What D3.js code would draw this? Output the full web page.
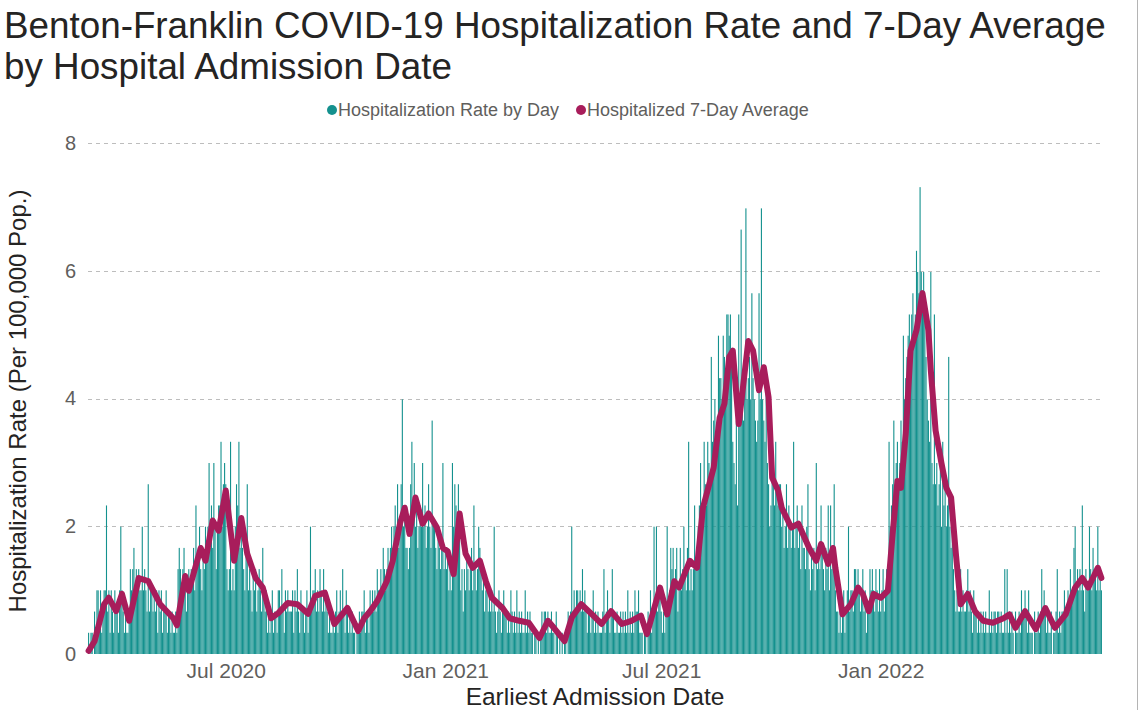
<!DOCTYPE html>
<html><head><meta charset="utf-8">
<script src="https://cdn.jsdelivr.net/npm/d3@7"></script>
<style>body{margin:0;background:#fff;} svg{display:block;font-family:"Liberation Sans", Arial, sans-serif;}</style>
</head><body><svg id="chart" width="1140" height="710"></svg>
<script>
// ---------- DATA ----------
const titleLines = ["Benton-Franklin COVID-19 Hospitalization Rate and 7-Day Average", "by Hospital Admission Date"];
const legendLabels = ["Hospitalization Rate by Day", "Hospitalized 7-Day Average"];
const yAxisTitle = "Hospitalization Rate (Per 100,000 Pop.)";
const xAxisTitle = "Earliest Admission Date";
const yTicks = [0, 2, 4, 6, 8];
const xTickDates = ["2020-07-01", "2021-01-01", "2021-07-01", "2022-01-01"];
const xTickLabels = ["Jul 2020", "Jan 2021", "Jul 2021", "Jan 2022"];

// daily admissions (patients), one per day starting at firstDay; rate = patients per 100,000 pop.
const firstDay = "2020-03-08";
const population = 301000;
const dailyPatients = [
1,0,1,1,0,2,1,3,3,2, 3,1,2,3,3,7,2,3,1,3, 2,1,3,2,2,1,3,6,3,2, 1,2,1,1,2,4,3,4,5,3,
4,3,4,3,3,6,3,4,3,2, 8,2,3,3,2,3,2,3,1,3, 2,3,1,2,2,3,1,2,2,1, 2,1,1,2,1,4,5,4,3,4,
5,3,2,3,4,3,4,4,5,3, 7,4,5,6,4,3,5,4,6,5, 6,9,5,7,5,9,6,4,6,7, 7,10,6,8,9,8,4,3,4,10,
3,4,3,6,8,7,10,5,6,5, 4,3,5,8,3,4,3,2,4,3, 4,2,3,4,3,2,5,3,2,3, 1,2,1,2,3,1,2,2,1,3,
3,2,4,2,1,3,2,3,2,2, 2,3,1,3,2,4,2,1,3,2, 2,1,2,3,1,2,6,2,3,3, 4,2,3,2,4,3,2,4,2,3,
2,1,2,1,1,2,1,2,3,1, 2,3,2,4,2,1,3,2,1,2, 1,2,1,1,0,1,1,2,1,2, 2,3,1,2,2,1,3,2,3,2,
3,2,4,3,3,4,3,5,4,3, 4,5,4,5,6,5,6,7,6,8, 5,6,8,12,6,7,5,5,4,5, 8,10,7,9,6,7,5,6,7,6,
9,6,7,5,6,8,6,5,11,6, 6,5,4,6,5,4,5,9,4,5, 4,5,3,4,3,9,6,8,7,6, 8,6,3,4,2,4,3,5,4,3,
4,5,3,7,4,3,4,6,5,4, 3,4,2,3,3,2,3,2,3,2, 6,2,1,2,3,2,1,2,3,2, 2,1,2,1,3,2,1,2,1,3,
1,2,1,2,1,1,3,1,2,1, 2,1,1,0,1,1,0,1,0,1, 2,1,2,2,1,2,1,1,2,1, 1,0,2,1,0,1,0,1,0,1,
1,0,2,1,2,6,2,3,2,3, 3,2,3,2,4,2,3,2,1,2, 2,1,2,3,1,2,1,2,1,1, 1,2,4,1,2,3,2,1,2,4,
2,1,1,2,1,1,2,1,2,1, 2,1,3,1,2,1,2,1,3,2, 2,3,1,1,1,0,1,1,0,2, 1,3,1,2,6,2,6,2,3,3,
2,1,2,1,2,6,2,3,5,4, 5,3,4,5,2,3,5,3,4,6, 4,3,5,10,3,4,3,4,7,4, 5,6,7,9,6,7,10,8,7,10,
9,8,14,10,11,12,10,11,15,13, 13,12,15,14,13,16,16,15,16,14, 10,9,8,11,7,16,12,20,12,11, 13,21,12,13,14,12,17,13,12,11,
10,11,17,12,21,12,11,10,13,9, 8,6,7,9,8,7,10,8,7,8, 8,6,7,5,6,8,5,7,6,5, 6,10,5,6,7,5,6,4,7,5,
5,4,6,8,4,3,5,4,5,3, 9,4,5,4,7,5,4,3,5,4, 7,3,7,4,5,8,3,2,2,1, 2,1,2,3,1,2,3,6,2,3,
3,2,4,4,3,4,3,2,3,4, 2,3,1,2,2,4,3,4,3,2, 4,3,2,4,2,3,4,2,3,4, 3,10,6,7,8,11,7,9,10,8,
9,11,10,15,12,13,14,15,16,14, 16,17,15,16,19,18,17,22,18,17, 18,16,14,12,11,10,18,9,8,16, 8,9,7,8,9,6,10,7,8,6,
7,14,6,5,6,4,3,2,3,2, 2,4,2,3,2,2,3,4,2,3, 2,1,3,2,2,1,2,1,2,1, 2,1,2,1,1,3,1,2,1,2,
2,1,2,2,1,2,1,1,4,1, 4,1,2,1,2,1,0,2,1,1, 2,1,3,2,2,3,2,1,3,1, 1,1,0,2,1,1,2,1,2,4,
2,3,2,1,2,1,1,2,0,1, 1,2,4,1,2,1,2,2,3,2, 2,3,2,4,3,3,5,6,3,4, 3,4,3,7,3,2,4,3,3,6,
4,3,5,4,4,3,6,3,4,3
];

// 7-day average line
const avgDates = ["2020-03-08","2020-03-13","2020-03-21","2020-03-25","2020-03-31","2020-04-05","2020-04-11","2020-04-19","2020-04-27","2020-05-07","2020-05-18","2020-05-21","2020-05-28","2020-05-31","2020-06-10","2020-06-14","2020-06-20","2020-06-25","2020-07-01","2020-07-08","2020-07-14","2020-07-19","2020-07-26","2020-08-01","2020-08-08","2020-08-14","2020-08-22","2020-08-30","2020-09-08","2020-09-14","2020-09-22","2020-09-30","2020-10-11","2020-10-20","2020-10-25","2020-10-30","2020-11-05","2020-11-13","2020-11-18","2020-11-24","2020-11-28","2020-12-02","2020-12-07","2020-12-13","2020-12-18","2020-12-25","2020-12-30","2021-01-03","2021-01-08","2021-01-13","2021-01-18","2021-01-24","2021-01-30","2021-02-04","2021-02-09","2021-02-18","2021-02-24","2021-03-04","2021-03-12","2021-03-21","2021-03-28","2021-04-02","2021-04-11","2021-04-17","2021-04-25","2021-05-04","2021-05-12","2021-05-20","2021-05-29","2021-06-06","2021-06-14","2021-06-19","2021-06-30","2021-07-06","2021-07-12","2021-07-16","2021-07-25","2021-07-31","2021-08-05","2021-08-14","2021-08-19","2021-08-23","2021-08-27","2021-08-30","2021-09-04","2021-09-12","2021-09-16","2021-09-21","2021-09-25","2021-09-29","2021-10-02","2021-10-07","2021-10-10","2021-10-18","2021-10-24","2021-11-02","2021-11-08","2021-11-12","2021-11-18","2021-11-22","2021-11-24","2021-11-30","2021-12-07","2021-12-13","2021-12-17","2021-12-22","2021-12-26","2022-01-01","2022-01-07","2022-01-11","2022-01-15","2022-01-18","2022-01-22","2022-01-26","2022-01-31","2022-02-05","2022-02-10","2022-02-12","2022-02-16","2022-02-21","2022-02-25","2022-03-01","2022-03-05","2022-03-09","2022-03-15","2022-03-21","2022-03-28","2022-04-05","2022-04-14","2022-04-19","2022-04-24","2022-05-02","2022-05-11","2022-05-19","2022-05-27","2022-06-05","2022-06-13","2022-06-19","2022-06-24","2022-07-02","2022-07-05"];
const avgValues = [0.05,0.2,0.78,0.88,0.67,0.94,0.52,1.19,1.14,0.78,0.56,0.45,1.22,0.99,1.66,1.46,2.09,1.93,2.56,1.46,2.13,1.57,1.19,1.04,0.56,0.64,0.8,0.78,0.63,0.91,0.96,0.47,0.72,0.36,0.56,0.67,0.83,1.14,1.46,2.04,2.29,1.88,2.45,2.04,2.2,1.98,1.66,1.61,1.25,2.2,1.57,1.35,1.46,1.14,0.88,0.72,0.56,0.52,0.49,0.25,0.52,0.41,0.2,0.57,0.78,0.62,0.47,0.67,0.47,0.52,0.6,0.31,1.04,0.62,1.14,1.04,1.46,1.35,2.29,2.92,3.7,3.92,4.65,4.75,3.6,4.9,4.75,4.13,4.49,4.02,2.76,2.56,2.29,1.98,2.04,1.66,1.46,1.72,1.41,1.66,1.35,0.62,0.78,1.04,0.94,0.67,0.94,0.88,0.99,1.88,2.71,2.6,3.45,4.75,5.07,5.65,5.07,4.44,3.5,2.98,2.6,2.45,1.57,0.78,0.94,0.67,0.52,0.49,0.56,0.62,0.41,0.67,0.39,0.72,0.41,0.62,1.04,1.19,1.04,1.35,1.19];

// ---------- CHART ----------
const parse = d3.utcParse("%Y-%m-%d");
const start = parse(firstDay);
const days = dailyPatients.map((p, i) => ({ date: d3.utcDay.offset(start, i), rate: p * 100000 / population }));
const avg = avgDates.map((d, i) => ({ date: parse(d), value: avgValues[i] }));

const teal = "#14918e", maroon = "#a81d5b";
const svg = d3.select("#chart");
const plot = { left: 88, right: 1102, top: 143, bottom: 654 };

const x = d3.scaleUtc()
  .domain([d3.utcHour.offset(days[0].date, -12), d3.utcHour.offset(days[days.length - 1].date, 12)])
  .range([plot.left, plot.right]);
const y = d3.scaleLinear().domain([0, 8]).range([plot.bottom, plot.top]);
const step = (plot.right - plot.left) / days.length;
const bw = step * 0.92;

// right frame line
svg.append("line").attr("x1", 1137.5).attr("x2", 1137.5).attr("y1", 0).attr("y2", 710)
  .attr("stroke", "#b4b4b4").attr("stroke-width", 1);

// title
svg.append("g").selectAll("text").data(titleLines).join("text")
  .attr("x", 4).attr("y", (d, i) => 38 + i * 41)
  .attr("font-size", 36.8).attr("fill", "#252423").text(d => d);

// legend
const lg = svg.append("g").attr("font-size", 18).attr("fill", "#605e5c");
const legendX = [332, 581];
legendLabels.forEach((t, i) => {
  lg.append("circle").attr("cx", legendX[i]).attr("cy", 110).attr("r", 5).attr("fill", i ? maroon : teal);
  lg.append("text").attr("x", legendX[i] + 6).attr("y", 116).text(t);
});

// gridlines + y labels
const yAxis = d3.axisLeft(y).tickValues(yTicks).tickSize(0).tickPadding(0).tickFormat(d3.format("d"));
const gy = svg.append("g").attr("transform", `translate(76,0)`).call(yAxis);
gy.select(".domain").remove();
gy.selectAll("text").attr("font-size", 20).attr("fill", "#605e5c").attr("font-family", "Liberation Sans, Arial, sans-serif");
svg.append("g").selectAll("line").data(yTicks.filter(t => t > 0)).join("line")
  .attr("x1", plot.left).attr("x2", 1100)
  .attr("y1", d => Math.round(y(d)) + 0.5).attr("y2", d => Math.round(y(d)) + 0.5)
  .attr("stroke", "#bdbdbd").attr("stroke-width", 1.2).attr("stroke-dasharray", "4,4");

// x axis labels
const xAxis = d3.axisBottom(x).tickValues(xTickDates.map(parse)).tickSize(0).tickPadding(0)
  .tickFormat((d, i) => xTickLabels[i]);
const gx = svg.append("g").attr("transform", `translate(0,663)`).call(xAxis);
gx.select(".domain").remove();
gx.selectAll("text").attr("font-size", 21).attr("fill", "#605e5c").attr("font-family", "Liberation Sans, Arial, sans-serif");

// bars
svg.append("g").selectAll("rect").data(days).join("rect")
  .attr("x", d => x(d.date) - bw / 2).attr("width", bw)
  .attr("y", d => y(d.rate)).attr("height", d => y(0) - y(d.rate))
  .attr("fill", teal);

// 7-day average line
svg.append("path").datum(avg)
  .attr("d", d3.line().x(d => x(d.date)).y(d => y(d.value)).curve(d3.curveLinear))
  .attr("fill", "none").attr("stroke", maroon).attr("stroke-width", 6)
  .attr("stroke-linejoin", "round").attr("stroke-linecap", "round");

// axis titles
svg.append("text").attr("x", 595).attr("y", 705).attr("text-anchor", "middle")
  .attr("font-size", 24.5).attr("fill", "#252423").text(xAxisTitle);
svg.append("text").attr("transform", "translate(26,401) rotate(-90)").attr("text-anchor", "middle")
  .attr("font-size", 24).attr("fill", "#252423").text(yAxisTitle);
</script></body></html>
